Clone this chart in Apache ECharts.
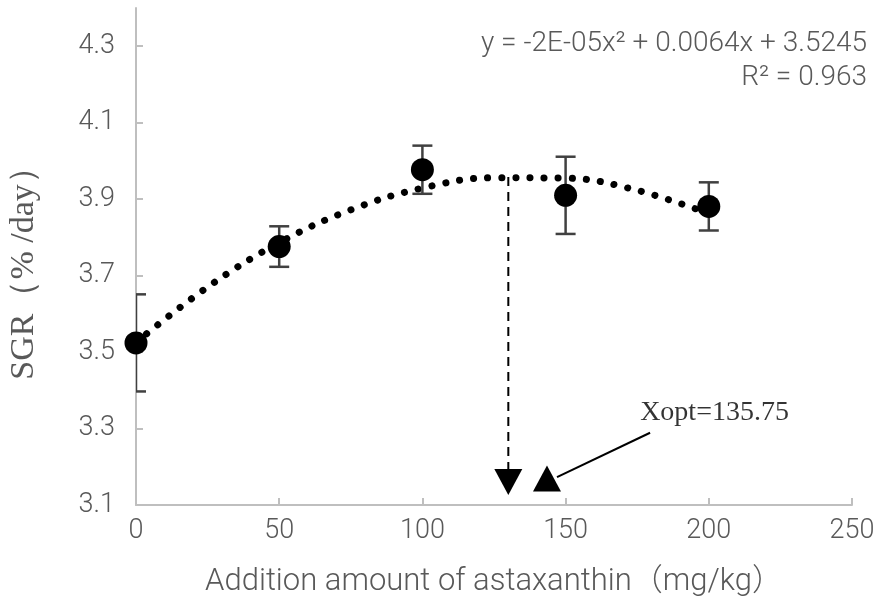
<!DOCTYPE html>
<html>
<head>
<meta charset="utf-8">
<script src="https://cdn.jsdelivr.net/npm/echarts@6/dist/echarts.min.js"></script>
<style>
  html, body { margin: 0; padding: 0; background: #fff; }
  #main { width: 886px; height: 613px; }
</style>
</head>
<body>
<div id="main"></div>
<script>
// measured points (mean ± error)
var doses = [0, 50, 100, 150, 200]
var sgrMean = [3.524, 3.776, 3.977, 3.910, 3.881]
var sgrErr = [0.127, 0.053, 0.063, 0.101, 0.063]

// trend line
var fitX = [0, 25, 50, 75, 100, 125, 150, 175, 200]
var fitY = [3.525, 3.670, 3.786, 3.872, 3.929, 3.956, 3.955, 3.923, 3.862]

var yTicks = [3.1, 3.3, 3.5, 3.7, 3.9, 4.1, 4.3]

// optimum guide
var optX = 130
var optTop = 3.958
var optArrowY = 3.160
var noteArrow = [[179.5, 3.289], [147, 3.173]]
var noteHead = [143.5, 3.169]
var noteText = [202, 3.341]

var grayFont = 'Roboto, "Noto Sans", "Noto Sans CJK SC", sans-serif'
var serifFont = '"Liberation Serif", "Times New Roman", serif'

var meanData = []
var errData = []
doses.forEach(function (d, i) {
  meanData.push([d, sgrMean[i]])
  errData.push([d, sgrMean[i] - sgrErr[i], sgrMean[i] + sgrErr[i]])
})
var fitData = fitX.map(function (x, i) { return [x, fitY[i]] })

var myChart = echarts.init(document.getElementById('main'))
myChart.setOption({
  animation: false,
  grid: { left: 136, right: 34, top: 8, bottom: 108 },
  xAxis: {
    type: 'value',
    min: 0, max: 250, interval: 50,
    name: 'Addition amount of astaxanthin（mg/kg）',
    nameLocation: 'middle',
    nameGap: 62,
    nameTextStyle: { fontFamily: grayFont, fontSize: 31, color: '#595959', fontWeight: 300 },
    axisLine: { lineStyle: { color: '#bfbfbf', width: 2 } },
    axisTick: { inside: true, length: 7, lineStyle: { color: '#bfbfbf', width: 2 } },
    axisLabel: { fontFamily: grayFont, fontSize: 27, color: '#595959', fontWeight: 300, margin: 13 },
    splitLine: { show: false }
  },
  yAxis: {
    type: 'value',
    min: 3.1, max: 4.4,
    axisLine: { show: true, lineStyle: { color: '#bfbfbf', width: 2 } },
    axisTick: { show: true, inside: true, length: 7, customValues: yTicks, lineStyle: { color: '#bfbfbf', width: 2 } },
    axisLabel: {
      fontFamily: grayFont, fontSize: 27, color: '#595959', fontWeight: 300, margin: 21,
      customValues: yTicks,
      formatter: function (v) { return v.toFixed(1) }
    },
    splitLine: { show: false }
  },
  graphic: [
    {
      type: 'text', x: 24, y: 265, rotation: Math.PI / 2,
      style: {
        text: 'SGR（% /day）', fill: '#595959', font: '34px ' + serifFont,
        textAlign: 'center', textVerticalAlign: 'middle'
      }
    },
    {
      type: 'text', x: 867, y: 44,
      style: {
        text: 'y = -2E-05x² + 0.0064x + 3.5245', fill: '#595959', font: '300 28px ' + grayFont,
        textAlign: 'right', textVerticalAlign: 'middle'
      }
    },
    {
      type: 'text', x: 867, y: 78,
      style: {
        text: 'R² = 0.963', fill: '#595959', font: '300 28px ' + grayFont,
        textAlign: 'right', textVerticalAlign: 'middle'
      }
    }
  ],
  series: [
    {
      name: 'trend',
      type: 'line',
      data: fitData,
      smooth: 0.4,
      showSymbol: false,
      symbol: 'none',
      lineStyle: { color: '#000', width: 7, type: [0.1, 14], cap: 'round', opacity: 1 },
      z: 2
    },
    {
      name: 'guide',
      type: 'line',
      data: [[optX, optTop], [optX, optArrowY]],
      symbol: 'none',
      lineStyle: { color: '#000', width: 2, type: [9, 6] },
      z: 2
    },
    {
      name: 'pointer',
      type: 'line',
      data: noteArrow,
      symbol: 'none',
      lineStyle: { color: '#000', width: 2 },
      z: 2
    },
    {
      name: 'heads',
      type: 'scatter',
      symbol: 'triangle',
      symbolSize: [28, 26],
      itemStyle: { color: '#000', opacity: 1 },
      data: [
        { value: [optX, optArrowY], symbolRotate: 180 },
        { value: noteHead }
      ],
      z: 3
    },
    {
      name: 'note',
      type: 'scatter',
      symbolSize: 0,
      data: [noteText],
      label: {
        show: true, position: 'inside',
        formatter: 'Xopt=135.75',
        fontFamily: serifFont,
        fontSize: 28, color: '#000'
      },
      z: 3
    },
    {
      name: 'error',
      type: 'custom',
      clip: true,
      data: errData,
      renderItem: function (params, api) {
        var lo = api.coord([api.value(0), api.value(1)])
        var hi = api.coord([api.value(0), api.value(2)])
        var w = 10
        var style = { stroke: '#404040', lineWidth: 2.5 }
        return {
          type: 'group',
          children: [
            { type: 'line', shape: { x1: lo[0], y1: lo[1], x2: hi[0], y2: hi[1] }, style: style },
            { type: 'line', shape: { x1: lo[0] - w, y1: lo[1], x2: lo[0] + w, y2: lo[1] }, style: style },
            { type: 'line', shape: { x1: hi[0] - w, y1: hi[1], x2: hi[0] + w, y2: hi[1] }, style: style }
          ]
        }
      },
      z: 4
    },
    {
      name: 'SGR',
      type: 'scatter',
      data: meanData,
      symbol: 'circle',
      symbolSize: 23,
      itemStyle: { color: '#000', opacity: 1 },
      z: 5
    }
  ]
})
</script>
</body>
</html>
